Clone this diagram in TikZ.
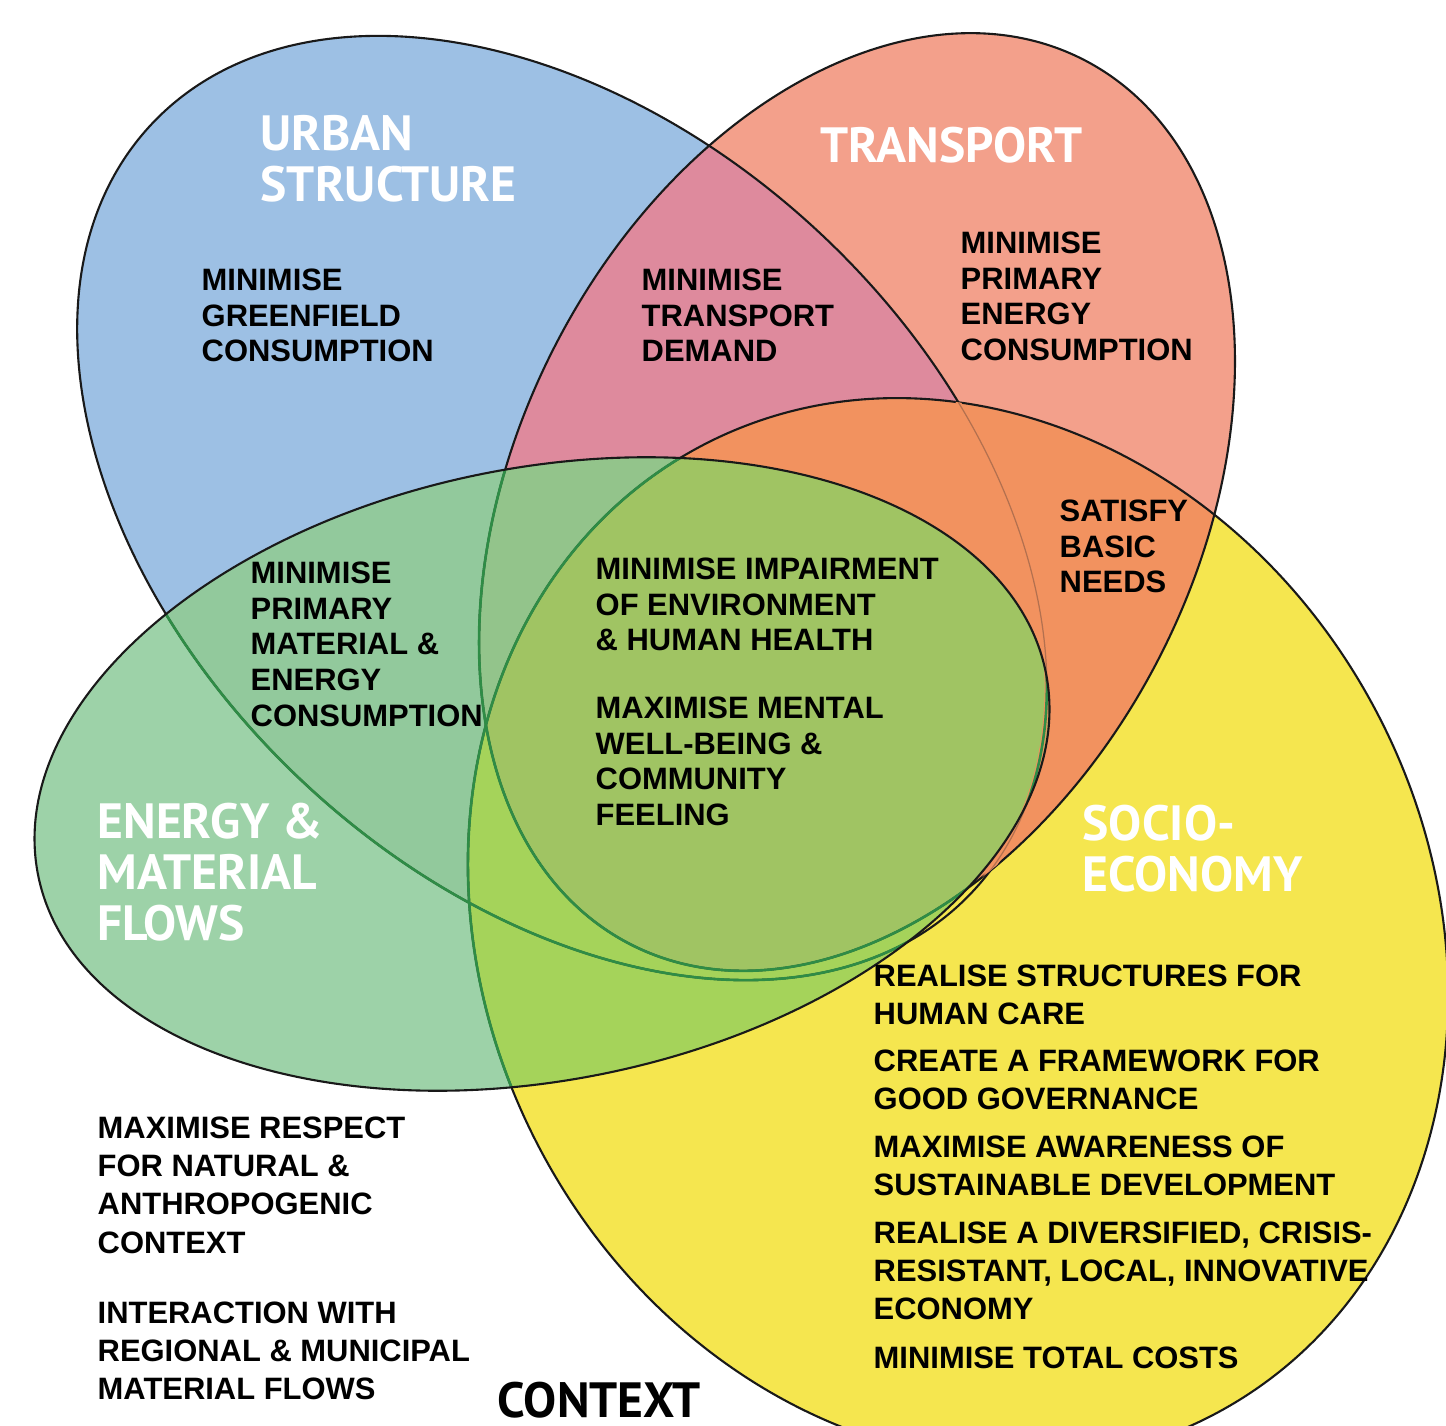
\documentclass[tikz,border=0pt]{standalone}
\usepackage{fontspec}
\setmainfont{Liberation Sans}
\newfontfamily\titlefont{PT Sans}
\usetikzlibrary{positioning}

\definecolor{urbanblue}{HTML}{9DC0E4}
\definecolor{transsalmon}{HTML}{F3A08B}
\definecolor{energygreen}{HTML}{9DD2A8}
\definecolor{socioyellow}{HTML}{F5E64F}
\definecolor{urbantrans}{HTML}{DE8A9D}
\definecolor{transsocio}{HTML}{F2925F}
\definecolor{urbanenergy}{HTML}{92C99C}
\definecolor{energysocio}{HTML}{A5D35A}
\definecolor{urbantransenergy}{HTML}{93C48B}
\definecolor{corecolor}{HTML}{A0C463}
\definecolor{rimgreen}{HTML}{2F8C46}
\definecolor{rimbrown}{HTML}{B3704F}

% the four ellipses, centres in tenths of a pixel
\newcommand{\urbanpath}{(56.2,-50.8) ellipse [x radius=56.2, y radius=37.7]}
\newcommand{\transpath}{(85.7,-50.2) ellipse [x radius=49.7, y radius=34]}
\newcommand{\energypath}{(54.2,-77.4) ellipse [x radius=51.4, y radius=30.6]}
\newcommand{\sociopath}{(95.8,-93.0) ellipse [x radius=54.8, y radius=47.2]}

\tikzset{
  urbanrot/.style={rotate around={-43:(56.2,-50.8)}},
  transrot/.style={rotate around={62.9:(85.7,-50.2)}},
  energyrot/.style={rotate around={11.4:(54.2,-77.4)}},
  sociorot/.style={rotate around={-61.7:(95.8,-93.0)}},
  rim/.style={draw=black!90, line width=0.6pt},
  innerrim/.style={draw=rimgreen, line width=0.75pt},
  goal/.style={anchor=north west, inner sep=0pt, align=left,
    font=\bfseries\fontsize{8.8}{10.2}\selectfont},
  goalwide/.style={goal, font=\bfseries\fontsize{8.8}{10.9}\selectfont},
  field/.style={anchor=north west, inner sep=0pt, align=left, text=white,
    font=\titlefont\bfseries\fontsize{14.1}{14.5}\selectfont}
}

\begin{document}
\begin{tikzpicture}[scale=0.1]
\useasboundingbox (0,0) rectangle (144.6,-142.6);
\begin{scope}
\clip (0,0) rectangle (144.6,-142.6);
% single sets
\fill[urbanblue, urbanrot] \urbanpath;
\fill[transsalmon, transrot] \transpath;
\fill[energygreen, energyrot] \energypath;
\fill[socioyellow, sociorot] \sociopath;
% overlaps
\begin{scope}
  \clip[urbanrot] \urbanpath;
  \fill[urbantrans, transrot] \transpath;
  \fill[urbanenergy, energyrot] \energypath;
\end{scope}
\begin{scope}
  \clip[transrot] \transpath;
  \fill[transsocio, sociorot] \sociopath;
\end{scope}
\begin{scope}
  \clip[energyrot] \energypath;
  \fill[energysocio, sociorot] \sociopath;
\end{scope}
\begin{scope}
  \clip[energyrot] \energypath;
  \clip[urbanrot] \urbanpath;
  \fill[urbantransenergy, transrot] \transpath;
\end{scope}
\begin{scope}
  \clip[energyrot] \energypath;
  \clip[transrot] \transpath;
  \fill[corecolor, sociorot] \sociopath;
\end{scope}
% rims
\draw[rim, urbanrot] \urbanpath;
\draw[rim, transrot] \transpath;
\draw[rim, sociorot] \sociopath;
\begin{scope}
  \clip[transrot] \transpath;
  \clip[sociorot] \sociopath;
  \draw[transsocio, line width=1.3pt, urbanrot] \urbanpath;
  \draw[rimbrown, line width=0.35pt, urbanrot] \urbanpath;
\end{scope}
\begin{scope}
  \clip[energyrot] \energypath;
  \draw[innerrim, urbanrot] \urbanpath;
  \draw[innerrim, transrot] \transpath;
  \draw[innerrim, sociorot] \sociopath;
\end{scope}
\draw[rim, energyrot] \energypath;
\end{scope}

% set names
\node[field] (urban) at (26.0,-11.5) {URBAN\\STRUCTURE};
\node[field] (transport) at (82.0,-12.6) {TRANSPORT};
\node[field] (energy) at (9.7,-80.2) {ENERGY \&\\MATERIAL\\FLOWS};
\node[field] (socio) at (108.2,-80.4) {SOCIO-\\ECONOMY};
\node[field, text=black] (context) at (49.7,-138.1) {CONTEXT};

% goals
\node[goal] (greenfield) at (20.1,-26.8) {MINIMISE\\GREENFIELD\\CONSUMPTION};
\node[goal] (demand) at (64.1,-26.8) {MINIMISE\\TRANSPORT\\DEMAND};
\node[goal] (primenergy) at (96.0,-23.1) {MINIMISE\\PRIMARY\\ENERGY\\CONSUMPTION};
\node[goal] (basicneeds) at (105.9,-49.9) {SATISFY\\BASIC\\NEEDS};
\node[goal] (primmaterial) at (25.0,-56.1) {MINIMISE\\PRIMARY\\MATERIAL \&\\ENERGY\\CONSUMPTION};
\node[goal] (impairment) at (59.5,-55.7) {MINIMISE IMPAIRMENT\\OF ENVIRONMENT\\\& HUMAN HEALTH};
\node[goal] (wellbeing) at (59.5,-69.6) {MAXIMISE MENTAL\\WELL-BEING \&\\COMMUNITY\\FEELING};

\node[goalwide] (care) at (87.3,-96.4) {REALISE STRUCTURES FOR\\HUMAN CARE};
\node[goalwide] (governance) at (87.3,-104.9) {CREATE A FRAMEWORK FOR\\GOOD GOVERNANCE};
\node[goalwide] (awareness) at (87.3,-113.5) {MAXIMISE AWARENESS OF\\SUSTAINABLE DEVELOPMENT};
\node[goalwide] (economy) at (87.3,-122.1) {REALISE A DIVERSIFIED, CRISIS-\\RESISTANT, LOCAL, INNOVATIVE\\ECONOMY};
\node[goalwide] (costs) at (87.3,-134.6) {MINIMISE TOTAL COSTS};

\node[goalwide] (respect) at (9.7,-111.6) {MAXIMISE RESPECT\\FOR NATURAL \&\\ANTHROPOGENIC\\CONTEXT};
\node[goalwide] (matflows) at (9.7,-130.1) {INTERACTION WITH\\REGIONAL \& MUNICIPAL\\MATERIAL FLOWS};
\end{tikzpicture}
\end{document}
